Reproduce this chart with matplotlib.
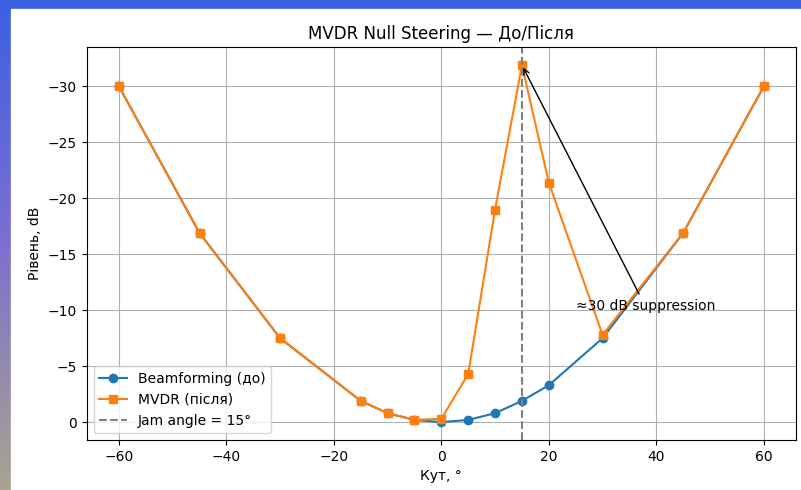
import matplotlib
matplotlib.use("Agg")
import matplotlib.pyplot as plt
import numpy as np
from matplotlib.colors import LinearSegmentedColormap
from matplotlib.patches import Rectangle

# ── data ──
angles = [-60, -45, -30, -15, -10, -5, 0, 5, 10, 15, 20, 30, 45, 60]
beam_db = [-30.0, -16.9, -7.5, -1.9, -0.8, -0.2, 0.0, -0.2, -0.8, -1.9, -3.3, -7.5, -16.9, -30.0]
mvdr_db = [-30.0, -16.9, -7.5, -1.9, -0.8, -0.2, -0.3, -4.3, -19.0, -31.9, -21.4, -7.8, -16.9, -30.0]
jam_angle = 15
note_text = "≈30 dB suppression"
note_xy = (25, -10)

fig = plt.figure(figsize=(8.01, 4.90), dpi=100)

# slide background (gradient) behind a white card
bg = fig.add_axes([0, 0, 1, 1], zorder=-10)
cmap = LinearSegmentedColormap.from_list("slide", ["#3a60e4", "#7d6fd0", "#a9a48f"])
bg.imshow(np.linspace(0, 1, 256).reshape(-1, 1), aspect="auto", cmap=cmap,
          extent=[0, 1, 0, 1], origin="upper")
bg.add_patch(Rectangle((11 / 801, 0), 1, 1 - 9 / 490, color="white"))
bg.set_xlim(0, 1)
bg.set_ylim(0, 1)
bg.axis("off")

ax = fig.add_axes([86.7 / 801, 1 - 440 / 490, (796 - 86.7) / 801, (440 - 47.3) / 490])

ax.plot(angles, beam_db, marker="o", color="#1f77b4", label="Beamforming (до)")
ax.plot(angles, mvdr_db, marker="s", color="#ff7f0e", label="MVDR (після)")
ax.axvline(jam_angle, color="gray", linestyle="--", label=f"Jam angle = {jam_angle}°")

peak_i = int(np.argmin(mvdr_db))
ax.annotate(note_text, xy=(angles[peak_i], mvdr_db[peak_i]), xytext=note_xy,
            arrowprops=dict(arrowstyle="->", color="black"))

ax.invert_yaxis()
ax.set_title("MVDR Null Steering — До/Після", fontsize=12)
ax.set_xlabel("Кут, °")
ax.set_ylabel("Рівень, dB")
ax.grid(True)
ax.legend(loc="lower left")

fig.savefig("out.png", dpi=100)
